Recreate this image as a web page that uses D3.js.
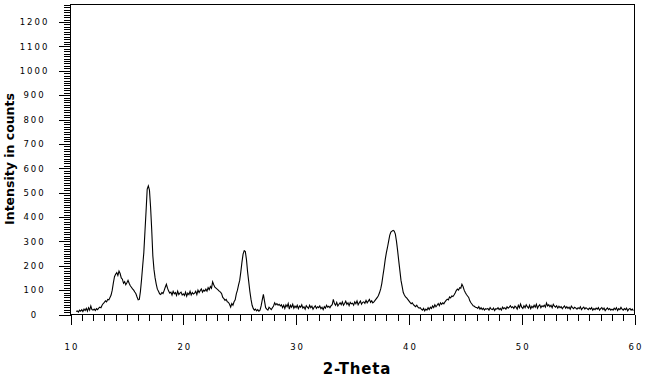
<!DOCTYPE html>
<html>
<head>
<meta charset="utf-8">
<script src="https://cdnjs.cloudflare.com/ajax/libs/d3/7.8.5/d3.min.js"></script>
<style>
  body { margin: 0; background: #fff; }
  .tick text { font-family: "DejaVu Sans", sans-serif; font-size: 8.5px; letter-spacing: 2px; fill: #000; }
  .axis path { display: none; }
  .axis line { stroke: #000; shape-rendering: crispEdges; }
</style>
</head>
<body>
<script>
// scan grid of the diffractogram (2-theta, degrees)
var thetaStart = 10.5,
    thetaStep = 0.1;

// counts, one per step, 10.5 .. 59.9
var counts = [
  12, 15, 10, 18, 14,
  20, 12, 22, 16, 25, 14, 28, 18, 35, 20,           // 11
  18, 22, 16, 24, 20, 26, 30, 28, 38, 45,           // 12
  50, 56, 52, 62, 60, 70, 80, 100, 130, 155,        // 13
  165, 172, 160, 178, 168, 150, 145, 128, 135, 122, // 14
  130, 140, 128, 118, 112, 105, 100, 92, 85, 72,    // 15
  60, 62, 95, 144, 200, 254, 340, 425, 515, 528,    // 16
  510, 440, 348, 240, 185, 150, 125, 104, 95, 85,   // 17
  82, 90, 86, 98, 112, 124, 108, 96, 88, 92,        // 18
  80, 95, 85, 90, 78, 96, 82, 88, 92, 80,           // 19
  85, 78, 92, 75, 88, 82, 95, 80, 90, 84,           // 20
  88, 95, 82, 100, 90, 98, 105, 92, 100, 96,        // 21
  104, 96, 110, 102, 115, 108, 134, 122, 112, 108,  // 22
  104, 100, 95, 92, 85, 70, 65, 58, 62, 52,         // 23
  50, 42, 30, 45, 38, 52, 60, 85, 100, 122,         // 24
  140, 175, 215, 248, 262, 258, 225, 175, 135, 95,  // 25
  63, 38, 25, 18, 22, 15, 20, 14, 18, 35,           // 26
  60, 83, 55, 28, 22, 18, 30, 25, 20, 28,           // 27
  35, 48, 40, 45, 38, 42, 35, 40, 28, 38,           // 28
  25, 40, 32, 45, 22, 38, 30, 42, 26, 35,           // 29
  28, 38, 24, 35, 30, 40, 26, 32, 22, 36,           // 30
  30, 25, 38, 28, 34, 22, 30, 36, 25, 32,           // 31
  28, 35, 24, 30, 20, 32, 26, 38, 30, 34,           // 32
  28, 36, 40, 62, 45, 38, 50, 35, 42, 48,           // 33
  40, 52, 38, 45, 55, 42, 48, 36, 50, 44,           // 34
  46, 38, 52, 44, 56, 40, 48, 55, 42, 50,           // 35
  52, 46, 58, 48, 55, 62, 50, 56, 48, 52,           // 36
  58, 64, 70, 78, 90, 105, 128, 160, 190, 225,      // 37
  253, 275, 300, 325, 338, 342, 345, 342, 330, 300, // 38
  262, 220, 180, 140, 115, 90, 80, 72, 68, 62,      // 39
  56, 50, 44, 48, 40, 36, 32, 38, 30, 26,           // 40
  28, 22, 18, 25, 15, 22, 18, 28, 20, 30,           // 41
  25, 35, 28, 40, 32, 38, 45, 36, 48, 42,           // 42
  48, 44, 52, 58, 63, 60, 72, 68, 76, 74,           // 43
  80, 88, 98, 104, 100, 110, 108, 124, 115, 100,    // 44
  90, 82, 76, 70, 56, 48, 42, 36, 34, 30,           // 45
  29, 25, 32, 22, 28, 20, 26, 18, 24, 22,           // 46
  25, 18, 28, 22, 20, 26, 16, 24, 22, 28,           // 47
  20, 25, 18, 30, 24, 28, 22, 32, 26, 30,           // 48
  36, 28, 32, 25, 34, 30, 22, 38, 28, 43,           // 49
  30, 25, 36, 28, 40, 32, 26, 38, 24, 34,           // 50
  28, 38, 30, 42, 26, 35, 40, 28, 36, 32,           // 51
  38, 30, 47, 35, 40, 32, 38, 28, 42, 34,           // 52
  30, 36, 26, 34, 28, 32, 24, 30, 35, 26,           // 53
  32, 25, 30, 22, 34, 28, 24, 30, 26, 22,           // 54
  28, 24, 32, 20, 26, 30, 22, 28, 24, 20,           // 55
  26, 22, 28, 18, 24, 20, 26, 22, 28, 18,           // 56
  24, 28, 20, 26, 16, 22, 27, 20, 24, 18,           // 57
  22, 18, 26, 20, 28, 16, 24, 20, 29, 22,           // 58
  18, 24, 20, 26, 15, 22, 25, 18, 22, 16            // 59
];

var xTicks = [10, 20, 30, 40, 50, 60];
var yTicks = [0, 100, 200, 300, 400, 500, 600, 700, 800, 900, 1000, 1100, 1200];

var w = 648, h = 378;

var xScale = d3.scaleLinear().domain([10, 60]).range([70.5, 634.5]);
var yScale = d3.scaleLinear().domain([0, 1272]).range([314.5, 4.5]);

var svg = d3.select('body').append('svg')
    .attr('width', w)
    .attr('height', h);

// minor ticks
svg.append('g')
    .attr('class', 'axis')
    .attr('transform', 'translate(0,314.5)')
    .call(d3.axisBottom(xScale).tickValues(d3.range(10, 61, 1)).tickSize(6).tickFormat(''));

svg.append('g')
    .attr('class', 'axis')
    .attr('transform', 'translate(70.5,0)')
    .call(d3.axisLeft(yScale).tickValues(d3.range(0, 1271, 10)).tickSize(7).tickFormat(''));

// major ticks + labels
var xAxis = d3.axisBottom(xScale).tickValues(xTicks).tickSize(10).tickPadding(19).tickFormat(d3.format('d'));
var gx = svg.append('g')
    .attr('class', 'axis')
    .attr('transform', 'translate(0,314.5)')
    .call(xAxis);
gx.selectAll('text').attr('dx', '1px');

var yAxis = d3.axisLeft(yScale).tickValues(yTicks).tickSize(12).tickFormat(d3.format('d'));
var gy = svg.append('g')
    .attr('class', 'axis')
    .attr('transform', 'translate(70.5,0)')
    .call(yAxis);
gy.selectAll('text')
    .attr('text-anchor', 'middle')
    .attr('x', -36);

// frame
svg.append('rect')
    .attr('x', 70.5)
    .attr('y', 4.5)
    .attr('width', 564)
    .attr('height', 310)
    .attr('fill', 'none')
    .attr('stroke', '#000')
    .attr('shape-rendering', 'crispEdges');

var line = d3.line()
    .x(function (d, i) { return xScale(thetaStart + i * thetaStep); })
    .y(function (d) { return yScale(d); });

svg.append('path')
    .datum(counts)
    .attr('d', line)
    .attr('fill', 'none')
    .attr('stroke', '#000')
    .attr('stroke-width', 1.1);

svg.append('text')
    .attr('x', 357)
    .attr('y', 374)
    .attr('text-anchor', 'middle')
    .attr('font-family', 'DejaVu Sans, sans-serif')
    .attr('font-weight', 'bold')
    .attr('font-size', '15px')
    .attr('letter-spacing', '0.8px')
    .text('2-Theta');

svg.append('text')
    .attr('transform', 'translate(14,159) rotate(-90)')
    .attr('text-anchor', 'middle')
    .attr('font-family', 'DejaVu Sans, sans-serif')
    .attr('font-weight', 'bold')
    .attr('font-size', '12.5px')
    .text('Intensity in counts');
</script>
</body>
</html>
